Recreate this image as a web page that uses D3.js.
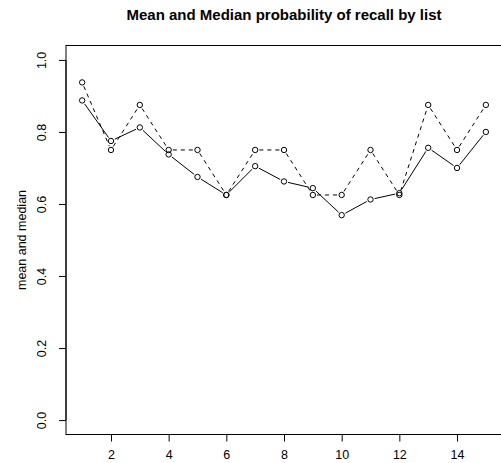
<!DOCTYPE html>
<html>
<head>
<meta charset="utf-8">
<script src="https://cdn.jsdelivr.net/npm/d3@7"></script>
<style>
  html, body { margin: 0; padding: 0; background: #fff; }
  svg { display: block; font-family: "Liberation Sans", Arial, Helvetica, sans-serif; }
</style>
</head>
<body>
<script>
const lists = [1, 2, 3, 4, 5, 6, 7, 8, 9, 10, 11, 12, 13, 14, 15];
const meanValues = [0.8875, 0.775, 0.8125, 0.7375, 0.675, 0.625, 0.705, 0.6625, 0.644, 0.569, 0.6125, 0.63, 0.756, 0.70, 0.80];
const medianValues = [0.9375, 0.75, 0.875, 0.75, 0.75, 0.625, 0.75, 0.75, 0.625, 0.625, 0.75, 0.625, 0.875, 0.75, 0.875];
const xTicks = [2, 4, 6, 8, 10, 12, 14];
const yTicks = [0.0, 0.2, 0.4, 0.6, 0.8, 1.0];
const titleText = "Mean and Median probability of recall by list";
const yLabelText = "mean and median";

const W = 501, H = 463;
const plotLeft = 66, plotRight = 502, plotTop = 45.5, plotBottom = 434.5;

const svg = d3.select("body").append("svg").attr("width", W).attr("height", H);

// R-style 4% domain extension
const xr = [1, 15], yr = [0, 1];
const xPad = (xr[1] - xr[0]) * 0.04, yPad = (yr[1] - yr[0]) * 0.04;
const x = d3.scaleLinear().domain([xr[0] - xPad, xr[1] + xPad]).range([plotLeft, plotRight]);
const y = d3.scaleLinear().domain([yr[0] - yPad, yr[1] + yPad]).range([plotBottom, plotTop]);

// box
svg.append("rect")
  .attr("x", plotLeft).attr("y", plotTop)
  .attr("width", plotRight - plotLeft).attr("height", plotBottom - plotTop)
  .attr("fill", "none").attr("stroke", "#000").attr("stroke-width", 1);

// x axis
const xAxis = d3.axisBottom(x).tickValues(xTicks).tickFormat(d3.format("d")).tickSize(7).tickSizeOuter(0).tickPadding(9);
const gx = svg.append("g").attr("transform", `translate(0,${plotBottom})`).call(xAxis);
gx.select(".domain").attr("d", `M${x(xTicks[0])},0H${x(xTicks[xTicks.length-1])}`);
gx.selectAll("text").attr("font-size", 12.5).attr("fill", "#000")
  .attr("font-family", "'Liberation Sans', Arial, sans-serif");

// y axis
const yAxis = d3.axisLeft(y).tickValues(yTicks).tickFormat(d3.format(".1f")).tickSize(7).tickSizeOuter(0);
const gy = svg.append("g").attr("transform", `translate(${plotLeft},0)`).call(yAxis);
gy.select(".domain").attr("d", `M0,${y(yTicks[0])}V${y(yTicks[yTicks.length-1])}`);
gy.selectAll(".tick text")
  .attr("font-size", 12.5).attr("fill", "#000")
  .attr("font-family", "'Liberation Sans', Arial, sans-serif")
  .attr("dy", null).attr("x", 0).attr("y", 0)
  .attr("text-anchor", "middle")
  .attr("transform", "translate(-20,0) rotate(-90)");

// title
svg.append("text")
  .attr("x", (plotLeft + plotRight) / 2).attr("y", 20)
  .attr("text-anchor", "middle").attr("font-weight", "bold").attr("font-size", 15)
  .text(titleText);

// y label
svg.append("text")
  .attr("transform", `translate(26,${(plotTop + plotBottom) / 2}) rotate(-90)`)
  .attr("text-anchor", "middle").attr("font-size", 12.5)
  .text(yLabelText);

// type="b" lines with gaps
const gap = 4.2;
function drawSeries(values, dash) {
  const pts = lists.map((d, i) => [x(d), y(values[i])]);
  const g = svg.append("g");
  for (let i = 0; i < pts.length - 1; i++) {
    const [x0, y0] = pts[i], [x1, y1] = pts[i + 1];
    const dx = x1 - x0, dy = y1 - y0, len = Math.hypot(dx, dy);
    if (len <= 2 * gap) continue;
    const ux = dx / len, uy = dy / len;
    g.append("line")
      .attr("x1", x0 + ux * gap).attr("y1", y0 + uy * gap)
      .attr("x2", x1 - ux * gap).attr("y2", y1 - uy * gap)
      .attr("stroke", "#000").attr("stroke-width", 1)
      .attr("stroke-dasharray", dash);
  }
  g.selectAll("circle").data(pts).join("circle")
    .attr("cx", d => d[0]).attr("cy", d => d[1]).attr("r", 2.7)
    .attr("fill", "none").attr("stroke", "#000").attr("stroke-width", 1);
}
drawSeries(meanValues, null);
drawSeries(medianValues, "4,4");
</script>
</body>
</html>
